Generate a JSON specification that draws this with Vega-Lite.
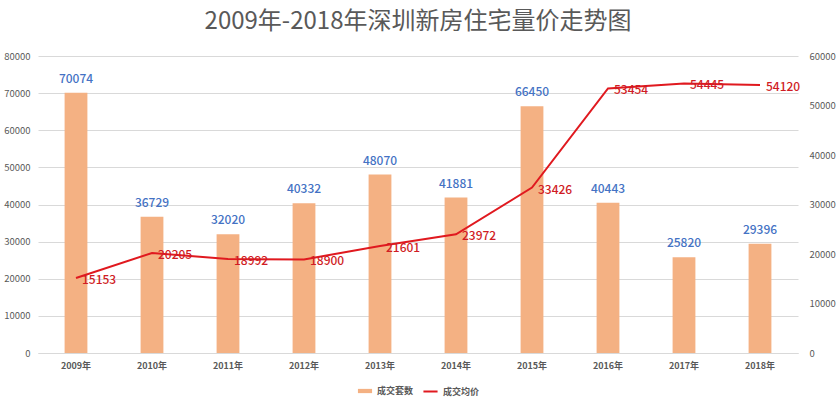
{
  "$schema": "https://vega.github.io/schema/vega-lite/v6.json",
  "width": 760,
  "height": 297,
  "autosize": "none",
  "padding": {"left": 38, "top": 56, "right": 39, "bottom": 50},
  "background": "white",
  "config": {
    "font": "Noto Sans CJK SC",
    "view": {"stroke": null},
    "legend": {"layout": {"bottom": {"anchor": "middle", "direction": "horizontal"}}}
  },
  "title": {
    "text": "2009年-2018年深圳新房住宅量价走势图",
    "fontSize": 24,
    "color": "#595959",
    "font": "Noto Sans CJK SC",
    "fontWeight": "normal",
    "offset": 17,
    "anchor": "middle"
  },
  "data": {
    "values": [
      {"year": "2009年", "count": 70074, "price": 15153},
      {"year": "2010年", "count": 36729, "price": 20205},
      {"year": "2011年", "count": 32020, "price": 18992},
      {"year": "2012年", "count": 40332, "price": 18900},
      {"year": "2013年", "count": 48070, "price": 21601},
      {"year": "2014年", "count": 41881, "price": 23972},
      {"year": "2015年", "count": 66450, "price": 33426},
      {"year": "2016年", "count": 40443, "price": 53454},
      {"year": "2017年", "count": 25820, "price": 54445},
      {"year": "2018年", "count": 29396, "price": 54120}
    ]
  },
  "encoding": {
    "x": {
      "field": "year",
      "type": "ordinal",
      "sort": null,
      "scale": {"paddingInner": 0.7, "paddingOuter": 0.35},
      "axis": {
        "title": null,
        "labelAngle": 0,
        "labelFontSize": 9,
        "labelFontWeight": "bold",
        "labelColor": "#595959",
        "labelPadding": 8,
        "ticks": false,
        "domain": true,
        "domainColor": "#D9D9D9",
        "grid": false
      }
    }
  },
  "layer": [
    {
      "encoding": {
        "y": {
          "field": "count",
          "type": "quantitative",
          "scale": {"domain": [0, 80000], "nice": false},
          "axis": {
            "title": null,
            "orient": "left",
            "format": "d",
            "values": [0, 10000, 20000, 30000, 40000, 50000, 60000, 70000, 80000],
            "grid": true,
            "gridColor": "#D9D9D9",
            "domain": false,
            "ticks": false,
            "labelColor": "#595959",
            "labelFontSize": 9.5,
            "labelPadding": 8
          }
        }
      },
      "layer": [
        {
          "mark": {"type": "bar"},
          "encoding": {
            "fill": {
              "datum": "成交套数",
              "scale": {"range": ["#F4B183"]},
              "legend": {
                "title": null,
                "orient": "bottom",
                "symbolType": "M-1,-0.3H1V0.3H-1Z",
                "symbolSize": 200,
                "labelFontSize": 9,
                "labelFontWeight": "bold",
                "labelColor": "#595959",
                "offset": 13
              }
            }
          }
        },
        {
          "mark": {"type": "text", "dy": -14, "fontSize": 12, "color": "#4472C4", "fontWeight": 500},
          "encoding": {"text": {"field": "count", "type": "quantitative", "format": "d"}}
        }
      ]
    },
    {
      "encoding": {
        "y": {
          "field": "price",
          "type": "quantitative",
          "scale": {"domain": [0, 60000], "nice": false},
          "axis": {
            "title": null,
            "orient": "right",
            "format": "d",
            "values": [0, 10000, 20000, 30000, 40000, 50000, 60000],
            "grid": false,
            "domain": false,
            "ticks": false,
            "labelColor": "#595959",
            "labelFontSize": 9.5,
            "labelPadding": 11
          }
        }
      },
      "layer": [
        {
          "mark": {"type": "line", "strokeWidth": 2},
          "encoding": {
            "stroke": {
              "datum": "成交均价",
              "scale": {"range": ["#E0191F"]},
              "legend": {
                "title": null,
                "orient": "bottom",
                "symbolType": "stroke",
                "symbolStrokeWidth": 2,
                "symbolSize": 200,
                "labelFontSize": 9,
                "labelFontWeight": "bold",
                "labelColor": "#595959",
                "offset": 13
              }
            }
          }
        },
        {
          "mark": {"type": "text", "align": "left", "dx": 6, "dy": 2, "fontSize": 12, "color": "#D01C24", "fontWeight": 500},
          "encoding": {"text": {"field": "price", "type": "quantitative", "format": "d"}}
        }
      ]
    }
  ],
  "resolve": {"scale": {"y": "independent"}}
}
